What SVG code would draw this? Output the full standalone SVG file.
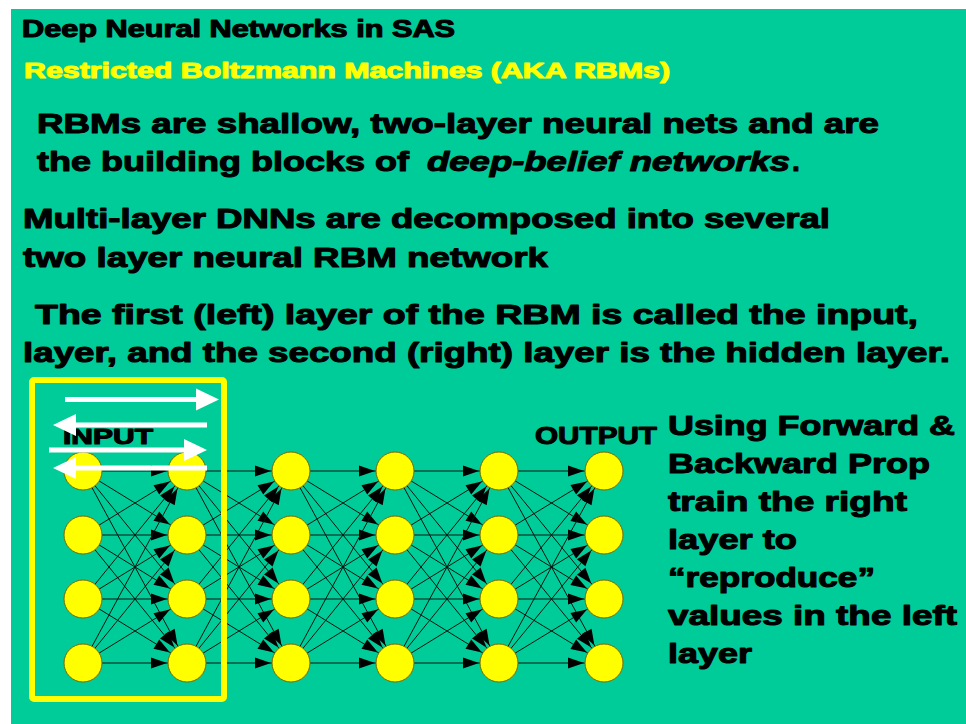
<svg xmlns="http://www.w3.org/2000/svg" width="966" height="724" viewBox="0 0 966 724">
  <style>
    .t { font-family: "Liberation Sans", Arial, sans-serif; font-weight: bold; fill: #000; stroke: #000; stroke-width: 1.1; stroke-linejoin: round; }
    .y { fill: #ffff00; stroke: #ffff00; }
    .it { font-style: italic; }
    .conn line { stroke: #06140f; stroke-width: 1; marker-end: url(#ah); }
    .node circle { fill: #ffff00; stroke: #7a6a00; stroke-width: 1; }
    .warrow { fill: #ffffff; }
  </style>
  <defs>
    <marker id="ah" markerUnits="userSpaceOnUse" markerWidth="40" markerHeight="20" refX="36" refY="5.5" orient="auto" overflow="visible">
      <path d="M0,0 L16,5.5 L0,11 z" fill="#000"/>
    </marker>
  </defs>

  <!-- page -->
  <rect x="0" y="0" width="966" height="724" fill="#ffffff"/>
  <rect x="11" y="9" width="955" height="715" fill="#00cc99"/>

  <!-- headings and body text -->
  <g id="text-block">
    <text class="t" x="22" y="37" font-size="23" textLength="433" lengthAdjust="spacingAndGlyphs">Deep Neural Networks in SAS</text>
    <text class="t y" x="24" y="78" font-size="22" textLength="646" lengthAdjust="spacingAndGlyphs">Restricted Boltzmann Machines (AKA RBMs)</text>

    <text class="t" x="37" y="133" font-size="28" textLength="842" lengthAdjust="spacingAndGlyphs">RBMs are shallow, two-layer neural nets and are</text>
    <text class="t" x="37" y="171" font-size="28" textLength="372" lengthAdjust="spacingAndGlyphs">the building blocks of</text>
    <text class="t it" x="427" y="171" font-size="28" textLength="363" lengthAdjust="spacingAndGlyphs">deep-belief networks</text>
    <text class="t" x="792" y="171" font-size="28">.</text>

    <text class="t" x="23" y="228" font-size="28" textLength="807" lengthAdjust="spacingAndGlyphs">Multi-layer DNNs are decomposed into several</text>
    <text class="t" x="23" y="267" font-size="28" textLength="525" lengthAdjust="spacingAndGlyphs">two layer neural RBM network</text>

    <text class="t" x="35" y="324" font-size="28" textLength="883" lengthAdjust="spacingAndGlyphs">The first (left) layer of the RBM is called the input,</text>
    <text class="t" x="23" y="362" font-size="28" textLength="927" lengthAdjust="spacingAndGlyphs">layer, and the second (right) layer is the hidden layer.</text>
  </g>

  <g id="side-note">
    <text class="t" x="668" y="435" font-size="28" textLength="287" lengthAdjust="spacingAndGlyphs">Using Forward &amp;</text>
    <text class="t" x="668" y="473" font-size="28" textLength="262" lengthAdjust="spacingAndGlyphs">Backward Prop</text>
    <text class="t" x="668" y="511" font-size="28" textLength="239" lengthAdjust="spacingAndGlyphs">train the right</text>
    <text class="t" x="668" y="549" font-size="28" textLength="129" lengthAdjust="spacingAndGlyphs">layer to</text>
    <text class="t" x="668" y="587" font-size="28" textLength="207" lengthAdjust="spacingAndGlyphs">“reproduce”</text>
    <text class="t" x="668" y="625" font-size="28" textLength="289" lengthAdjust="spacingAndGlyphs">values in the left</text>
    <text class="t" x="668" y="663" font-size="28" textLength="84" lengthAdjust="spacingAndGlyphs">layer</text>
  </g>

  <!-- fully connected layers, each line runs centre to centre and the arrow tip stops at the target circle -->
  <g id="connectors" class="conn">
    <!-- layer 1 to 2 -->
    <line x1="83" y1="471" x2="187" y2="471"/><line x1="83" y1="471" x2="187" y2="535"/><line x1="83" y1="471" x2="187" y2="599"/><line x1="83" y1="471" x2="187" y2="663"/>
    <line x1="83" y1="535" x2="187" y2="471"/><line x1="83" y1="535" x2="187" y2="535"/><line x1="83" y1="535" x2="187" y2="599"/><line x1="83" y1="535" x2="187" y2="663"/>
    <line x1="83" y1="599" x2="187" y2="471"/><line x1="83" y1="599" x2="187" y2="535"/><line x1="83" y1="599" x2="187" y2="599"/><line x1="83" y1="599" x2="187" y2="663"/>
    <line x1="83" y1="663" x2="187" y2="471"/><line x1="83" y1="663" x2="187" y2="535"/><line x1="83" y1="663" x2="187" y2="599"/><line x1="83" y1="663" x2="187" y2="663"/>
    <!-- layer 2 to 3 -->
    <line x1="187" y1="471" x2="291" y2="471"/><line x1="187" y1="471" x2="291" y2="535"/><line x1="187" y1="471" x2="291" y2="599"/><line x1="187" y1="471" x2="291" y2="663"/>
    <line x1="187" y1="535" x2="291" y2="471"/><line x1="187" y1="535" x2="291" y2="535"/><line x1="187" y1="535" x2="291" y2="599"/><line x1="187" y1="535" x2="291" y2="663"/>
    <line x1="187" y1="599" x2="291" y2="471"/><line x1="187" y1="599" x2="291" y2="535"/><line x1="187" y1="599" x2="291" y2="599"/><line x1="187" y1="599" x2="291" y2="663"/>
    <line x1="187" y1="663" x2="291" y2="471"/><line x1="187" y1="663" x2="291" y2="535"/><line x1="187" y1="663" x2="291" y2="599"/><line x1="187" y1="663" x2="291" y2="663"/>
    <!-- layer 3 to 4 -->
    <line x1="291" y1="471" x2="395" y2="471"/><line x1="291" y1="471" x2="395" y2="535"/><line x1="291" y1="471" x2="395" y2="599"/><line x1="291" y1="471" x2="395" y2="663"/>
    <line x1="291" y1="535" x2="395" y2="471"/><line x1="291" y1="535" x2="395" y2="535"/><line x1="291" y1="535" x2="395" y2="599"/><line x1="291" y1="535" x2="395" y2="663"/>
    <line x1="291" y1="599" x2="395" y2="471"/><line x1="291" y1="599" x2="395" y2="535"/><line x1="291" y1="599" x2="395" y2="599"/><line x1="291" y1="599" x2="395" y2="663"/>
    <line x1="291" y1="663" x2="395" y2="471"/><line x1="291" y1="663" x2="395" y2="535"/><line x1="291" y1="663" x2="395" y2="599"/><line x1="291" y1="663" x2="395" y2="663"/>
    <!-- layer 4 to 5 -->
    <line x1="395" y1="471" x2="499" y2="471"/><line x1="395" y1="471" x2="499" y2="535"/><line x1="395" y1="471" x2="499" y2="599"/><line x1="395" y1="471" x2="499" y2="663"/>
    <line x1="395" y1="535" x2="499" y2="471"/><line x1="395" y1="535" x2="499" y2="535"/><line x1="395" y1="535" x2="499" y2="599"/><line x1="395" y1="535" x2="499" y2="663"/>
    <line x1="395" y1="599" x2="499" y2="471"/><line x1="395" y1="599" x2="499" y2="535"/><line x1="395" y1="599" x2="499" y2="599"/><line x1="395" y1="599" x2="499" y2="663"/>
    <line x1="395" y1="663" x2="499" y2="471"/><line x1="395" y1="663" x2="499" y2="535"/><line x1="395" y1="663" x2="499" y2="599"/><line x1="395" y1="663" x2="499" y2="663"/>
    <!-- layer 5 to 6 -->
    <line x1="499" y1="471" x2="604" y2="471"/><line x1="499" y1="471" x2="604" y2="535"/><line x1="499" y1="471" x2="604" y2="599"/><line x1="499" y1="471" x2="604" y2="663"/>
    <line x1="499" y1="535" x2="604" y2="471"/><line x1="499" y1="535" x2="604" y2="535"/><line x1="499" y1="535" x2="604" y2="599"/><line x1="499" y1="535" x2="604" y2="663"/>
    <line x1="499" y1="599" x2="604" y2="471"/><line x1="499" y1="599" x2="604" y2="535"/><line x1="499" y1="599" x2="604" y2="599"/><line x1="499" y1="599" x2="604" y2="663"/>
    <line x1="499" y1="663" x2="604" y2="471"/><line x1="499" y1="663" x2="604" y2="535"/><line x1="499" y1="663" x2="604" y2="599"/><line x1="499" y1="663" x2="604" y2="663"/>
  </g>

  <!-- neurons -->
  <g id="n1-1" class="node"><circle cx="83" cy="471" r="19"/></g>
  <g id="n1-2" class="node"><circle cx="83" cy="535" r="19"/></g>
  <g id="n1-3" class="node"><circle cx="83" cy="599" r="19"/></g>
  <g id="n1-4" class="node"><circle cx="83" cy="663" r="19"/></g>
  <g id="n2-1" class="node"><circle cx="187" cy="471" r="19"/></g>
  <g id="n2-2" class="node"><circle cx="187" cy="535" r="19"/></g>
  <g id="n2-3" class="node"><circle cx="187" cy="599" r="19"/></g>
  <g id="n2-4" class="node"><circle cx="187" cy="663" r="19"/></g>
  <g id="n3-1" class="node"><circle cx="291" cy="471" r="19"/></g>
  <g id="n3-2" class="node"><circle cx="291" cy="535" r="19"/></g>
  <g id="n3-3" class="node"><circle cx="291" cy="599" r="19"/></g>
  <g id="n3-4" class="node"><circle cx="291" cy="663" r="19"/></g>
  <g id="n4-1" class="node"><circle cx="395" cy="471" r="19"/></g>
  <g id="n4-2" class="node"><circle cx="395" cy="535" r="19"/></g>
  <g id="n4-3" class="node"><circle cx="395" cy="599" r="19"/></g>
  <g id="n4-4" class="node"><circle cx="395" cy="663" r="19"/></g>
  <g id="n5-1" class="node"><circle cx="499" cy="471" r="19"/></g>
  <g id="n5-2" class="node"><circle cx="499" cy="535" r="19"/></g>
  <g id="n5-3" class="node"><circle cx="499" cy="599" r="19"/></g>
  <g id="n5-4" class="node"><circle cx="499" cy="663" r="19"/></g>
  <g id="n6-1" class="node"><circle cx="604" cy="471" r="19"/></g>
  <g id="n6-2" class="node"><circle cx="604" cy="535" r="19"/></g>
  <g id="n6-3" class="node"><circle cx="604" cy="599" r="19"/></g>
  <g id="n6-4" class="node"><circle cx="604" cy="663" r="19"/></g>

  <!-- RBM frame around the first two layers -->
  <g id="rbm-frame">
    <rect x="32" y="380" width="192" height="319" rx="2" fill="none" stroke="#ffff00" stroke-width="6"/>
  </g>

  <g id="layer-labels">
    <text class="t" x="63" y="444" font-size="22" textLength="90" lengthAdjust="spacingAndGlyphs">INPUT</text>
    <text class="t" x="535" y="444" font-size="24" textLength="122" lengthAdjust="spacingAndGlyphs">OUTPUT</text>
  </g>

  <!-- forward / backward passes -->
  <g id="passes" class="warrow">
    <path d="M65,397 L196,397 L196,388.5 L219,399.5 L196,410.5 L196,402 L65,402 z"/>
    <path d="M207,422.5 L76,422.5 L76,414 L53,425 L76,436 L76,427.5 L207,427.5 z"/>
    <path d="M49,447.5 L184,447.5 L184,439 L207,450 L184,461 L184,452.5 L49,452.5 z"/>
    <path d="M207,465.5 L76,465.5 L76,457 L53,468 L76,479 L76,470.5 L207,470.5 z"/>
  </g>
</svg>
